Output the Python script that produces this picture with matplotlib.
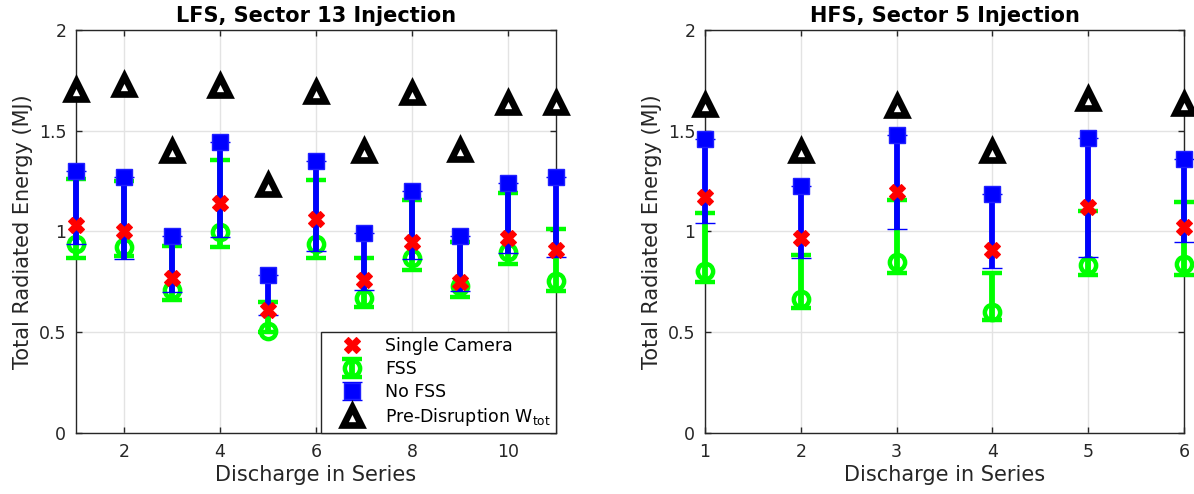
import matplotlib
matplotlib.use("Agg")
import matplotlib.pyplot as plt
import numpy as np

# ---- Data: LFS, Sector 13 Injection ----
lfs_x = [1, 2, 3, 4, 5, 6, 7, 8, 9, 10, 11]
lfs_single = [1.03, 1.00, 0.77, 1.14, 0.61, 1.06, 0.76, 0.95, 0.75, 0.97, 0.91]
lfs_fss = [0.94, 0.925, 0.71, 0.996, 0.508, 0.936, 0.668, 0.867, 0.73, 0.90, 0.756]
lfs_fss_lo = [0.87, 0.88, 0.66, 0.925, 0.50, 0.87, 0.624, 0.809, 0.673, 0.839, 0.705]
lfs_fss_hi = [1.26, 1.25, 0.93, 1.355, 0.652, 1.256, 0.867, 1.156, 0.95, 1.19, 1.012]
lfs_nofss = [1.30, 1.27, 0.98, 1.443, 0.784, 1.35, 0.994, 1.203, 0.979, 1.242, 1.269]
lfs_nofss_lo = [0.936, 0.864, 0.698, 0.971, 0.586, 0.903, 0.71, 0.862, 0.705, 0.892, 0.875]
lfs_wtot = [1.70, 1.727, 1.40, 1.72, 1.23, 1.694, 1.40, 1.686, 1.404, 1.636, 1.636]

# ---- Data: HFS, Sector 5 Injection ----
hfs_x = [1, 2, 3, 4, 5, 6]
hfs_single = [1.17, 0.966, 1.198, 0.908, 1.123, 1.024]
hfs_fss = [0.806, 0.665, 0.85, 0.602, 0.834, 0.839]
hfs_fss_lo = [0.751, 0.619, 0.792, 0.56, 0.784, 0.784]
hfs_fss_hi = [1.093, 0.883, 1.156, 0.796, 1.10, 1.148]
hfs_nofss = [1.457, 1.226, 1.479, 1.185, 1.462, 1.36]
hfs_nofss_lo = [1.044, 0.867, 1.012, 0.82, 0.875, 0.95]
hfs_wtot = [1.628, 1.401, 1.623, 1.401, 1.658, 1.633]

titles = ["LFS, Sector 13 Injection", "HFS, Sector 5 Injection"]
xlabel = "Discharge in Series"
ylabel = "Total Radiated Energy (MJ)"
legend_labels = ["Single Camera", "FSS", "No FSS", r"Pre-Disruption W$_{\mathrm{tot}}$"]

plt.rcParams['font.family'] = ['DejaVu Sans']
plt.rcParams['mathtext.default'] = 'regular'
axc = (0.15, 0.15, 0.15)

fig = plt.figure(figsize=(11.94, 4.94), dpi=100)
ax1 = fig.add_axes([76/1194, 61/494, 480/1194, 403/494])
ax2 = fig.add_axes([705/1194, 61/494, 479/1194, 403/494])


def draw(ax, x, single, fss, fss_lo, fss_hi, nofss, nofss_lo, wtot):
    x = np.asarray(x, float)
    fss = np.asarray(fss); nofss = np.asarray(nofss)
    e_fss = ax.errorbar(x, fss, yerr=[fss - np.asarray(fss_lo), np.asarray(fss_hi) - fss],
                        fmt='o', color='#00ff00', mfc='none', mec='#00ff00', ms=11, mew=3.2,
                        elinewidth=4.2, capsize=7.5, capthick=4, zorder=3, clip_on=False)
    e_nofss = ax.errorbar(x, nofss, yerr=[nofss - np.asarray(nofss_lo), np.zeros_like(nofss)],
                          fmt='s', color='#0000ff', mfc='#0000ff', mec='#2020ff', ms=11, mew=1,
                          elinewidth=4.2, capsize=7.5, capthick=4, zorder=4, clip_on=False)
    s, = ax.plot(x, single, 'X', color='#ff0000', ms=11, mec='#ff0000', mew=0.8, ls='none',
                 zorder=5, clip_on=False)
    w, = ax.plot(x, wtot, '^', mfc='white', mec='black', ms=13, mew=4.8, ls='none',
                 zorder=5, clip_on=False)
    return [s, e_fss, e_nofss, w]


handles = draw(ax1, lfs_x, lfs_single, lfs_fss, lfs_fss_lo, lfs_fss_hi, lfs_nofss, lfs_nofss_lo, lfs_wtot)
draw(ax2, hfs_x, hfs_single, hfs_fss, hfs_fss_lo, hfs_fss_hi, hfs_nofss, hfs_nofss_lo, hfs_wtot)

for ax, title, xl in [(ax1, titles[0], (1, 11)), (ax2, titles[1], (1, 6))]:
    ax.set_xlim(*xl)
    ax.set_ylim(0, 2)
    ax.set_yticks([0, 0.5, 1, 1.5, 2])
    ax.set_yticklabels(['0', '0.5', '1', '1.5', '2'])
    if xl[1] == 11:
        ax.set_xticks([2, 4, 6, 8, 10])
    else:
        ax.set_xticks([1, 2, 3, 4, 5, 6])
    ax.grid(True, color='#e3e3e3', lw=1)
    ax.set_axisbelow(True)
    ax.tick_params(direction='in', top=True, right=True, length=4, width=1,
                   colors=axc, labelsize=12.5, labelcolor=axc, pad=7)
    for sp in ax.spines.values():
        sp.set_color(axc)
        sp.set_linewidth(1)
    ax.set_title(title, fontsize=15, fontweight='bold', color='black', pad=6)
    ax.set_xlabel(xlabel, fontsize=15, color=axc, labelpad=3)
    ax.set_ylabel(ylabel, fontsize=15, color=axc, labelpad=4)

leg = ax1.legend(handles, legend_labels, loc='lower right', fontsize=12.5,
                 frameon=True, fancybox=False, framealpha=1, edgecolor=axc,
                 borderaxespad=0, handlelength=3.0, handletextpad=0.4, labelspacing=0.28,
                 borderpad=0.3)
leg.get_frame().set_linewidth(1)
leg.set_zorder(10)

fig.savefig("out.png", dpi=100)
